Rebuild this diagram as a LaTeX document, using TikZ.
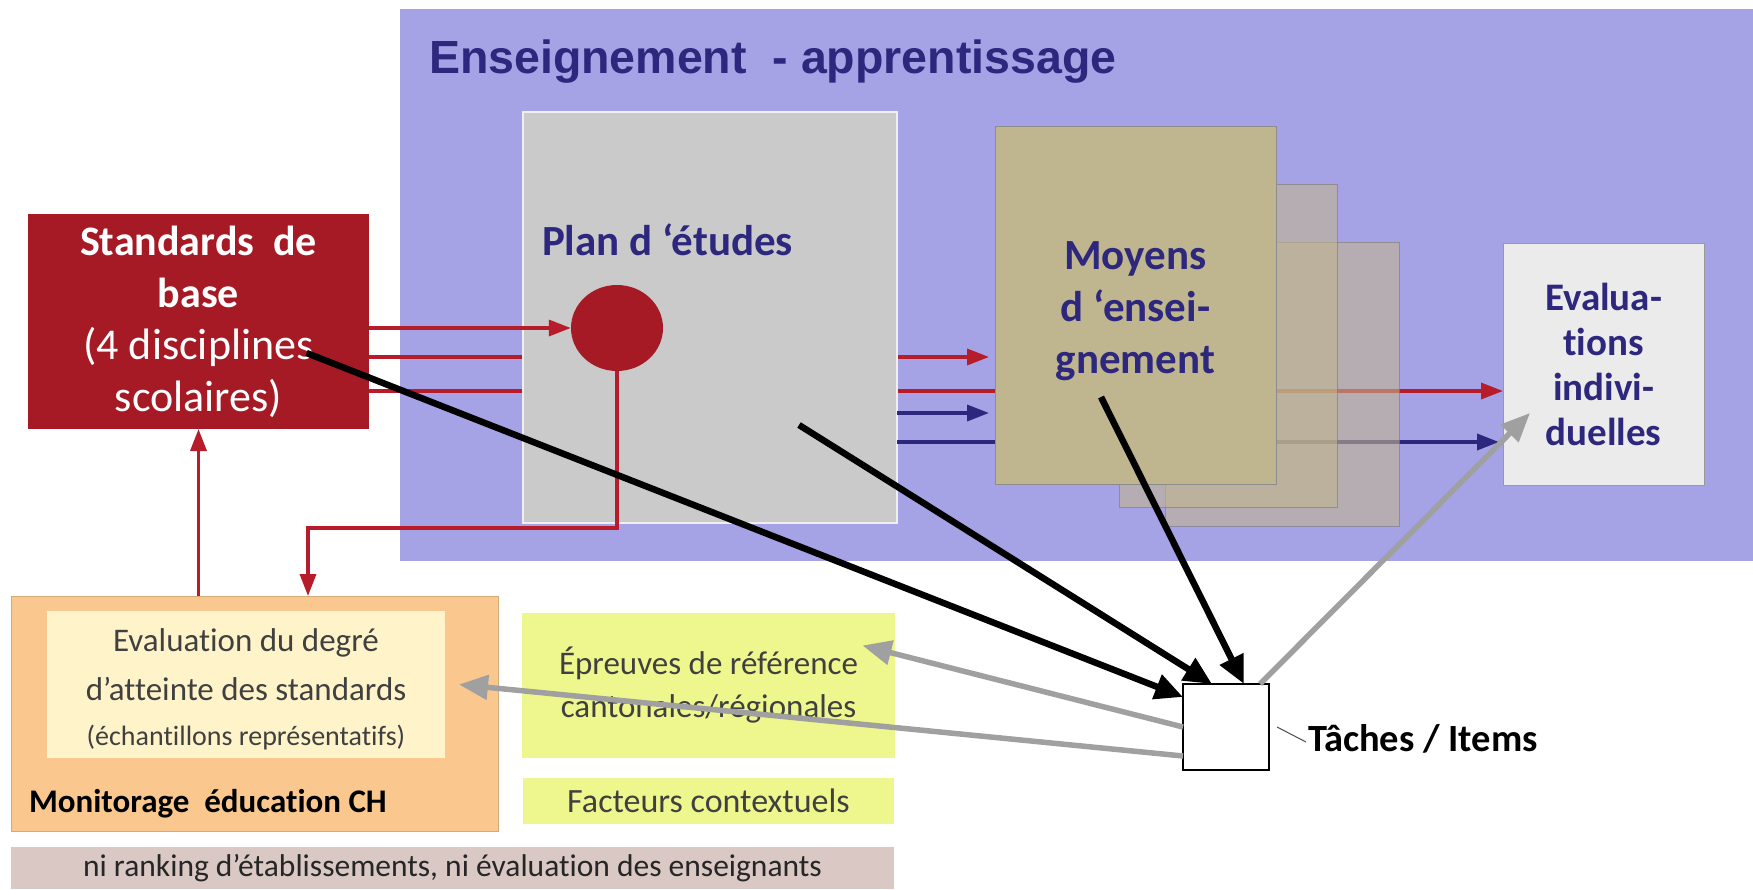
\documentclass[tikz,border=0pt]{standalone}
\usepackage{fontspec}
\setmainfont{Carlito}[Ligatures=CommonOff]
\newfontfamily\arialfont{Liberation Sans}
\usetikzlibrary{arrows.meta,positioning,shapes.geometric}

\definecolor{ensviolet}{RGB}{166,162,230}
\definecolor{navy}{RGB}{45,40,125}
\definecolor{stdred}{RGB}{165,26,36}
\definecolor{linered}{RGB}{182,28,42}
\definecolor{plangrey}{RGB}{202,202,202}
\definecolor{moykhaki}{RGB}{191,181,142}
\definecolor{evalgrey}{RGB}{235,235,235}
\definecolor{monorange}{RGB}{250,200,142}
\definecolor{moncream}{RGB}{255,243,202}
\definecolor{eprlime}{RGB}{238,246,142}
\definecolor{bandrose}{RGB}{217,200,196}
\definecolor{txtgrey}{RGB}{64,64,64}
\definecolor{arrowgrey}{RGB}{160,160,160}

\begin{document}
\begin{tikzpicture}[x=1pt,y=-1pt,on grid,node distance=115pt,
   rect/.style={rectangle,inner sep=0pt,outer sep=0pt},
   redline/.style={color=linered,line width=3.5pt},
   blueline/.style={color=navy,line width=3.5pt},
   thinhead/.style={-{Triangle[length=22pt,width=16pt]}},
   blackarrow/.style={color=black,line width=6.5pt,-{Triangle[length=28pt,width=25pt]}},
   greyarrow/.style={color=arrowgrey,line width=5.5pt,-{Triangle[length=29pt,width=24pt]}}]
   \useasboundingbox (0,0) rectangle (1753,889);

   \node[rect] (ens) [fill=ensviolet,minimum width=1353pt,minimum height=552pt] at (1076.5,285) {};
   \node[rect] (enstitle) [anchor=west,text=navy,font=\arialfont\bfseries\fontsize{46.5}{52}\selectfont] at (429,62) {Enseignement\ \ - apprentissage};

   \node[rect] (std) [fill=stdred,minimum width=341pt,minimum height=215pt,text=white,align=center,
        font=\fontsize{42}{52}\selectfont] at (198.5,321.5) {\textbf{Standards\ \ de}\\\textbf{base}\\{\fontsize{44}{52}\selectfont(4 disciplines}\\{\fontsize{44}{52}\selectfont scolaires)}};
   \node[rect] (eval) [fill=evalgrey,draw=gray!80,minimum width=201pt,minimum height=242pt,text=navy,align=center,
        font=\bfseries\fontsize{39}{45}\selectfont] at (1603.5,364) {Evalua-\\tions\\indivi-\\duelles};

   % lines running behind the plan and the teaching means
   \path[redline,thinhead]
        ([yshift=-35.5pt]std.east) edge ([yshift=-35.5pt,xshift=-6pt]std.east -| 995,0)
        ([yshift=-69.5pt]std.east) edge ([yshift=-69.5pt]std.east -| eval.west);
   \node[rect] (plan) [fill=plangrey,draw=white!70!plangrey,line width=1.5pt,minimum width=374pt,minimum height=411pt] at (710,317.5) {};
   \path[blueline,thinhead]
        ([yshift=-95.5pt]plan.east) edge ([yshift=-95.5pt,xshift=-6pt]plan.east -| 995,0)
        ([yshift=-124.5pt]plan.east) edge ([yshift=-124.5pt,xshift=-4pt]plan.east -| eval.west);
   \node[rect] (plantxt) [anchor=west,text=navy,font=\bfseries\fontsize{43}{48}\selectfont] at (542,240) {Plan d ‘études};
   \node[ellipse] (circ) [fill=stdred,minimum width=92pt,minimum height=86pt,inner sep=0pt] at (617,328) {};

   \node[rect] (moyb2) [fill=moykhaki,fill opacity=0.6,draw=gray,draw opacity=0.7,minimum width=234pt,minimum height=284pt] at (1282,384) {};
   \node[rect] (moyb1) [fill=moykhaki,fill opacity=0.6,draw=gray,draw opacity=0.7,minimum width=218pt,minimum height=323pt] at (1228,345.5) {};
   \node[rect] (moy) [fill=moykhaki,draw=gray!90,minimum width=281pt,minimum height=358pt] at (1135.5,305) {};
   \node[rect] (moytxt) [text=navy,align=center,font=\bfseries\fontsize{43}{52}\selectfont] at (1135.5,311) {Moyens\\d ‘ensei-\\gnement};

   \node[rect] (mon) [fill=monorange,draw=monorange!85!black,line width=0.8pt,minimum width=487pt,minimum height=235pt] at (254.5,713.5) {};
   \node[rect] (cream) [fill=moncream,minimum width=398pt,minimum height=147pt] at (246,684.5) {};
   \node[rect] (creamtxt) [text=txtgrey,align=center,font=\fontsize{33}{49}\selectfont] at (246,689) {Evaluation du degré\\d’atteinte des standards\\[-4pt]{\fontsize{28}{30}\selectfont (échantillons représentatifs)}};
   \node[rect] (montxt) [anchor=west,font=\bfseries\fontsize{33}{40}\selectfont] at (29,804) {Monitorage\ \ éducation CH};
   \node[rect] (epr) [fill=eprlime,minimum width=373pt,minimum height=145pt,text=txtgrey,align=center,
        font=\fontsize{33}{43}\selectfont] at (708.5,685.5) {Épreuves de référence\\cantonales/régionales};
   \node[rect] (fac) [fill=eprlime,minimum width=371pt,minimum height=46pt,text=txtgrey,
        font=\fontsize{34}{40}\selectfont,below=of epr] {Facteurs contextuels};
   \node[rect] (band) [fill=bandrose,minimum width=883pt,minimum height=42pt,text=black!85,
        font=\fontsize{31.5}{34}\selectfont] at (452.5,868) {ni ranking d’établissements, ni évaluation des enseignants};

   \node[rect] (task) [fill=white,draw=black,line width=1.2pt,minimum size=86pt] at (1226,727) {};
   \node[rect] (tasklbl) [anchor=west,font=\bfseries\fontsize{38.5}{40}\selectfont] at ([xshift=39pt,yshift=-12pt]task.east) {Tâches / Items};
   \draw[gray!60!black,line width=1pt] ([xshift=8pt]task.east) -- ([xshift=-2pt,yshift=-3pt]tasklbl.west);

   \coordinate (bend) at (308,528);
   \path[redline,thinhead]
        (std.east |- circ.west) edge (circ.west)
        (std.south |- mon.north) edge (std.south);
   \draw[redline,thinhead] (circ.south) |- (bend) -- (bend |- mon.north);

   \path[blackarrow]
        ([xshift=108pt,yshift=-31.5pt]std.center) edge ([yshift=-13pt]task.north west)
        ([xshift=89pt,yshift=-107.5pt]plan.center) edge ([xshift=-14pt]task.north)
        ([xshift=-34.5pt,yshift=-92pt]moy.center) edge ([xshift=18pt]task.north);
   \path[greyarrow]
        ([xshift=-9pt]task.north east) edge ([xshift=-73.5pt,yshift=-49pt]eval.center)
        (task.west) edge ([xshift=154pt,yshift=40pt]epr.center)
        ([yshift=-29pt]task.west) edge ([xshift=14pt]cream.east);
\end{tikzpicture}
\end{document}
